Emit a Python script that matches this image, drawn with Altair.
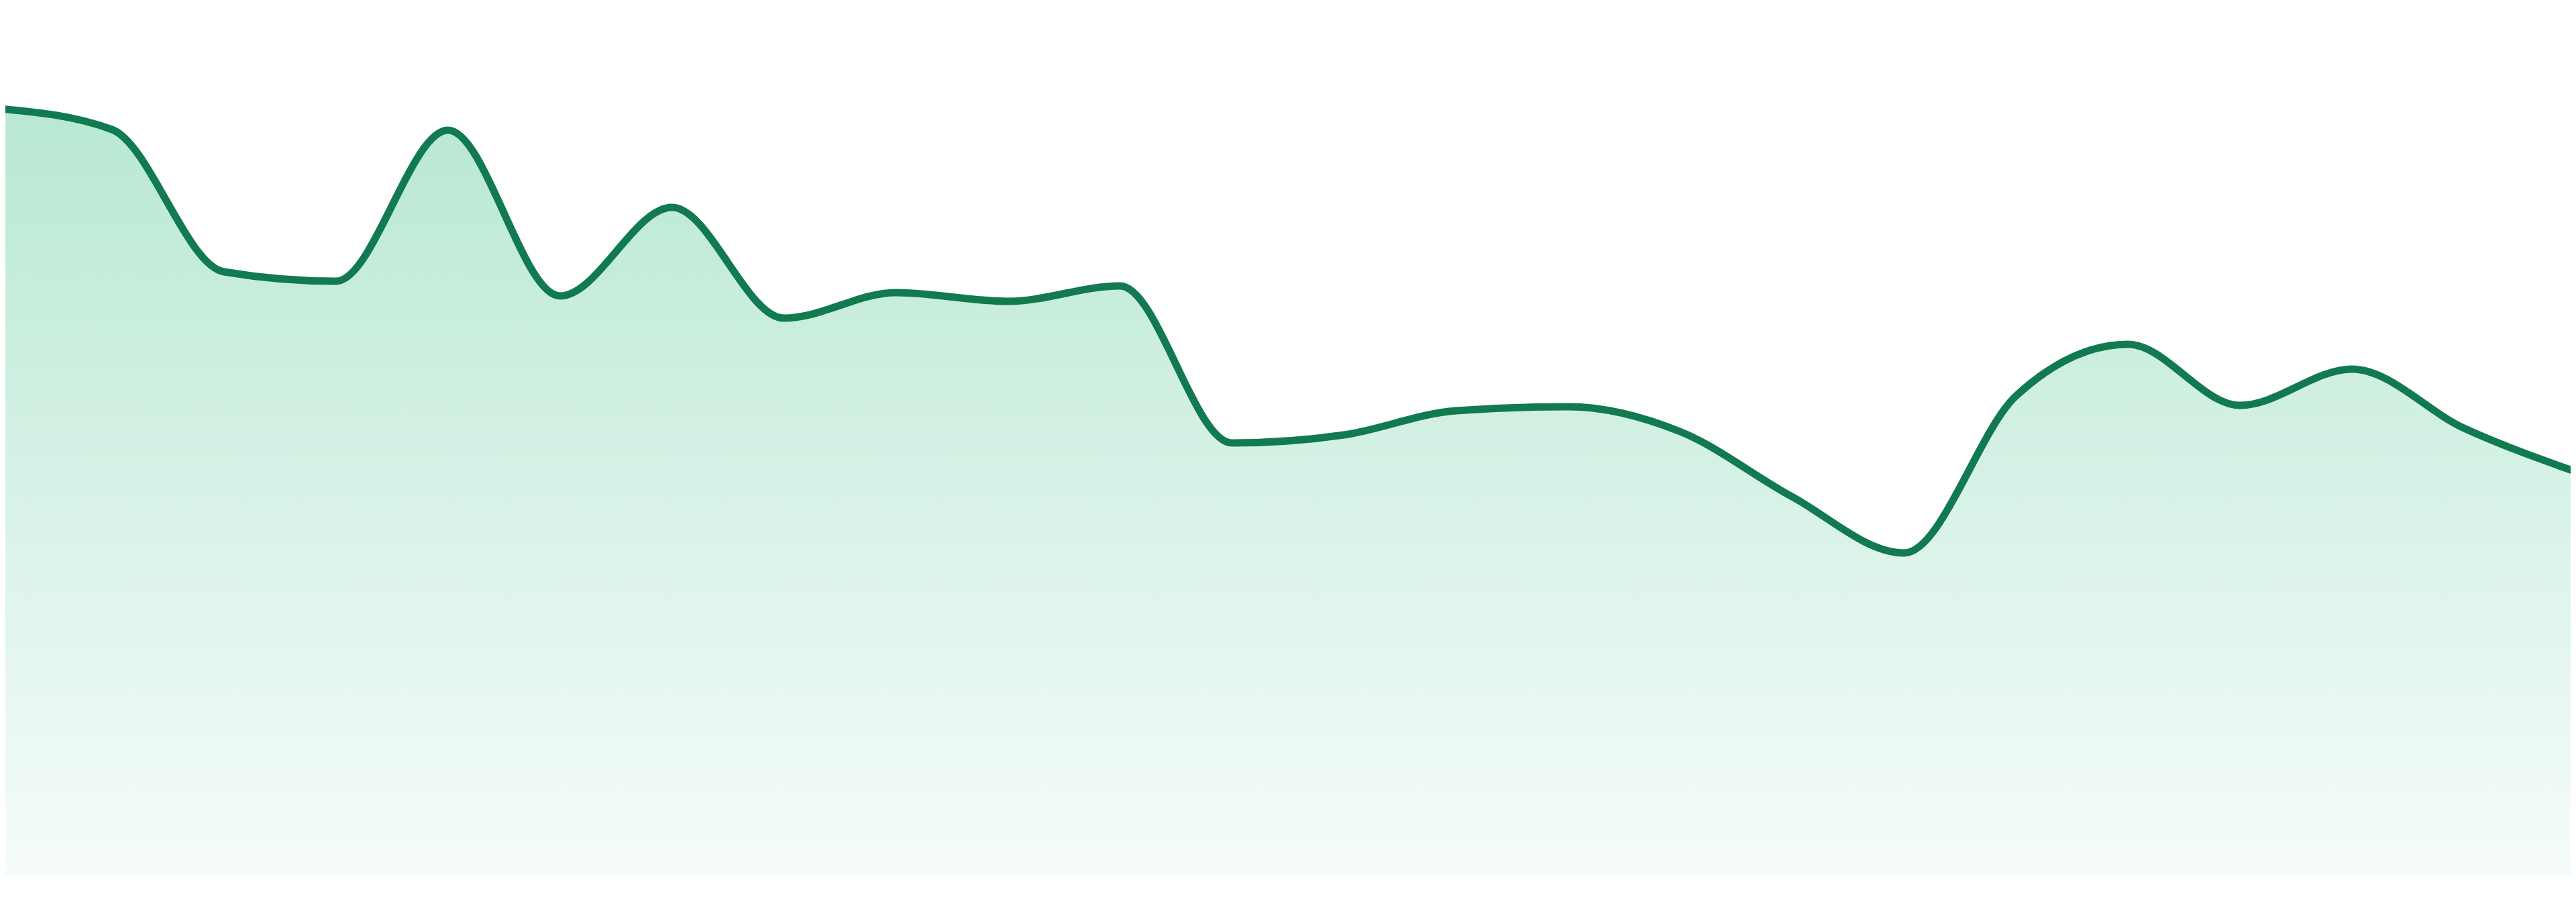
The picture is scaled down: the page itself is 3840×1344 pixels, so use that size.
import altair as alt
import pandas as pd

# index of each sample along the x axis
idx = list(range(24))
# series values (in pixel-height units above the baseline)
values = [1143, 1112, 900, 886, 1111, 864, 996, 831, 869, 856, 879, 645,
          657, 693, 699, 662, 565, 481, 715, 792, 701, 755, 667, 602]

df = pd.DataFrame({"i": idx, "v": values})

line_color = "#127a50"

x_enc = alt.X("i:Q", axis=None,
              scale=alt.Scale(domain=[8 * 23 / 3840, 3832 * 23 / 3840],
                              nice=False, zero=False))
y_enc = alt.Y("v:Q", axis=None,
              scale=alt.Scale(domain=[0, 1297], nice=False, zero=True))

area = alt.Chart(df).mark_area(
    interpolate="monotone",
    clip=True,
    color=alt.Gradient(
        gradient="linear",
        stops=[alt.GradientStop(color="#b8e8d3", offset=0),
               alt.GradientStop(color="#f6fcfa", offset=1)],
        x1=0, x2=0, y1=0, y2=1,
    ),
).encode(x=x_enc, y=y_enc)

line = alt.Chart(df).mark_line(
    interpolate="monotone",
    clip=True,
    color=line_color,
    strokeWidth=11,
).encode(x=x_enc, y=y_enc)

chart = (area + line).properties(
    width=3824,
    height=1297,
    padding=0,
    autosize=alt.AutoSizeParams(type="none"),
    background="white",
).configure_view(strokeWidth=0)

chart.save("out.html", embed_options={"renderer": "svg", "actions": False})
